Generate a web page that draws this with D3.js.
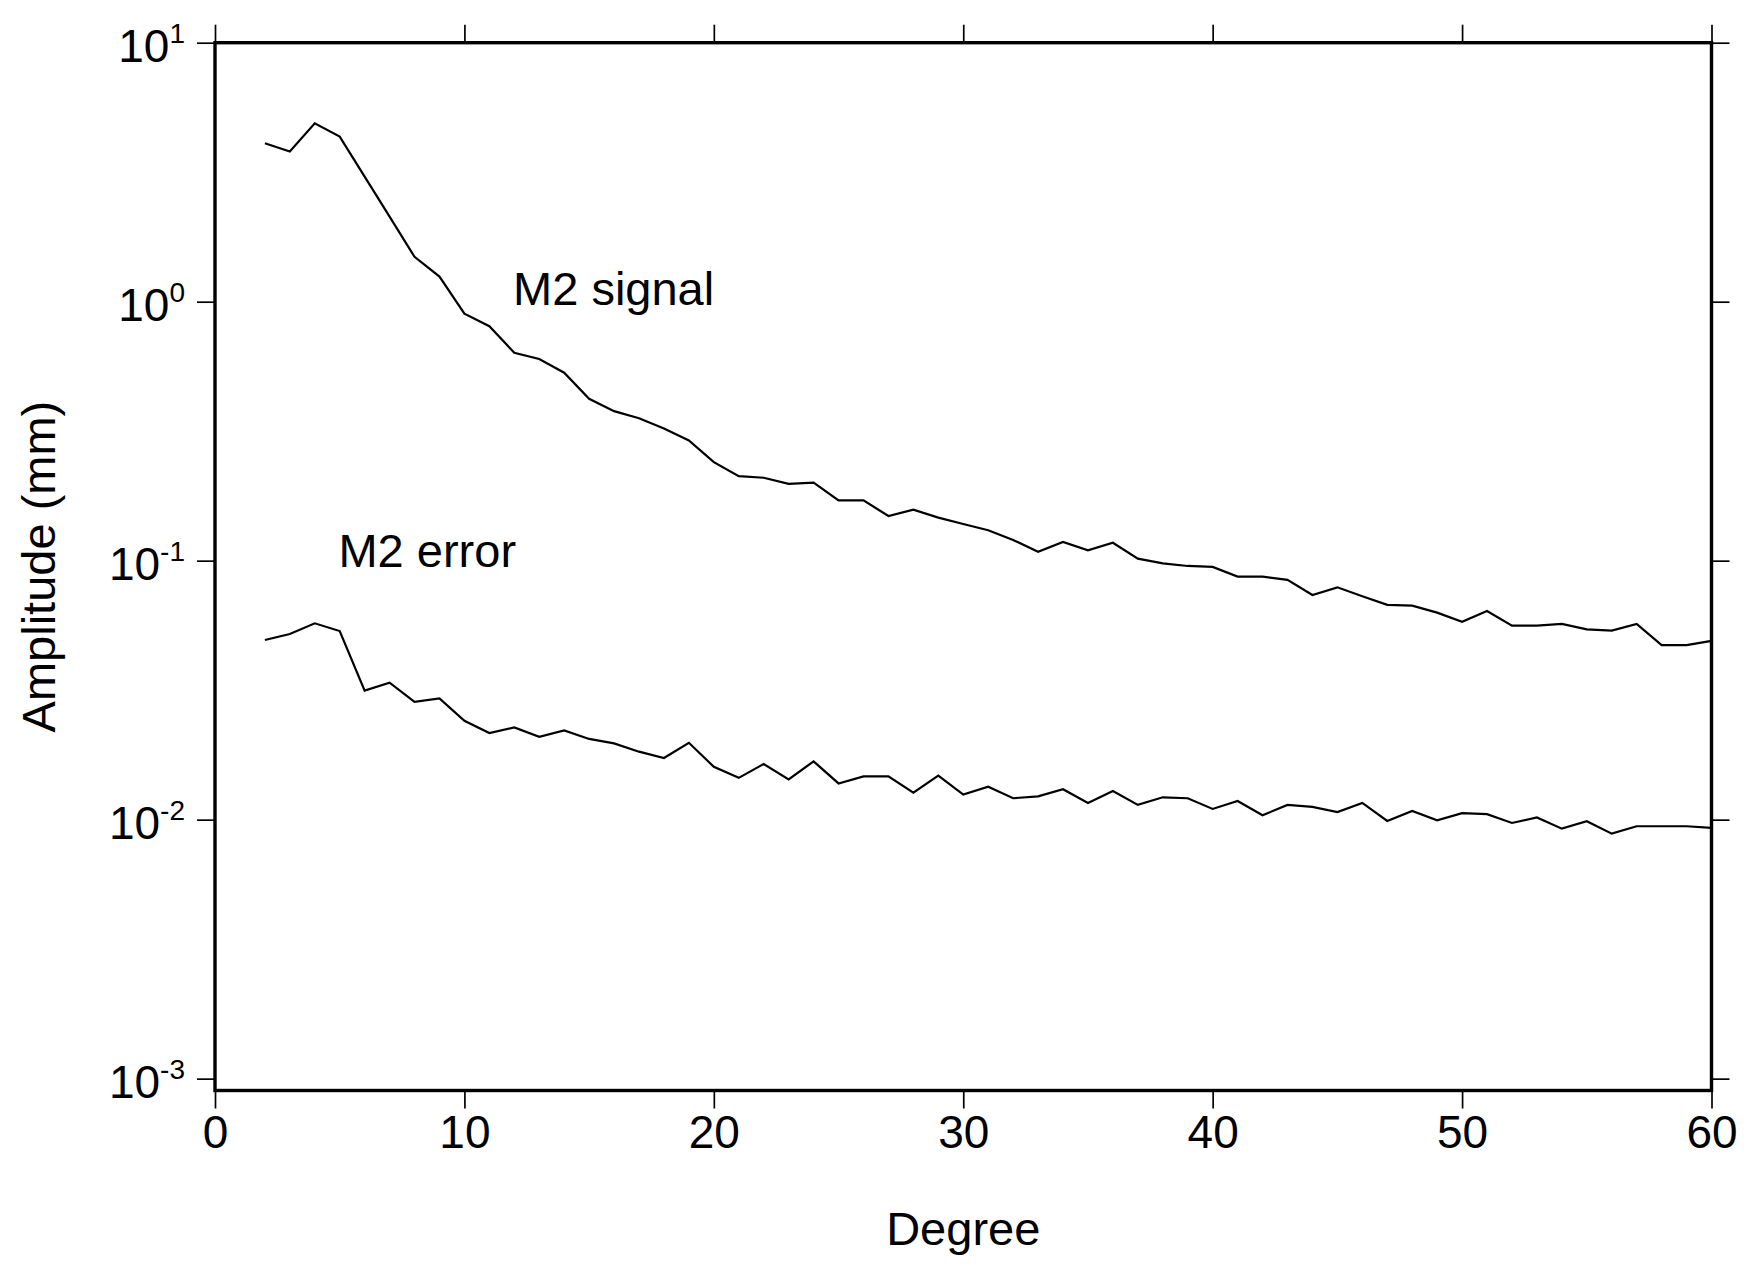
<!DOCTYPE html>
<html>
<head>
<meta charset="utf-8">
<script src="https://cdn.jsdelivr.net/npm/d3@7"></script>
<style>
body { margin: 0; background: #ffffff; }
text { font-family: "Liberation Sans", Arial, Helvetica, sans-serif; fill: #000; }
</style>
</head>
<body>
<div id="graphe"></div>
<script>
var width = 1749,
height = 1271,
gauche = 215,
droite = 1711.5,
haut = 42.7,
bas = 1090.5,
tick = 18;

// degres 2 a 60
var degres = d3.range(2, 61);

var signal = [4.09, 3.80, 4.88, 4.34, 3.04, 2.13, 1.49, 1.25, 0.899, 0.804,
	0.635, 0.601, 0.532, 0.422, 0.378, 0.355, 0.324, 0.291, 0.240, 0.212,
	0.209, 0.198, 0.200, 0.171, 0.171, 0.1488, 0.1573, 0.1466, 0.1386, 0.1311,
	0.1202, 0.1083, 0.1181, 0.1097, 0.1173, 0.1018, 0.0977, 0.0954, 0.0946, 0.0868,
	0.0868, 0.0843, 0.0737, 0.0789, 0.0729, 0.0675, 0.0670, 0.0630, 0.0581, 0.0639,
	0.0561, 0.0561, 0.0570, 0.0543, 0.0537, 0.0570, 0.0472, 0.0472, 0.0490];

var erreur = [0.0494, 0.0521, 0.0573, 0.0535, 0.0315, 0.0338, 0.0285, 0.0294, 0.0241, 0.0216,
	0.0227, 0.0209, 0.0221, 0.0205, 0.0197, 0.0183, 0.0173, 0.0198, 0.0160, 0.0145,
	0.0164, 0.0143, 0.0168, 0.0138, 0.0147, 0.0147, 0.0127, 0.0148, 0.0125, 0.0134,
	0.0121, 0.0123, 0.0131, 0.0116, 0.0129, 0.0114, 0.0122, 0.0121, 0.0110, 0.0118,
	0.0104, 0.0114, 0.0112, 0.0107, 0.0116, 0.00989, 0.0108, 0.00995, 0.0106, 0.0105,
	0.00971, 0.0102, 0.00923, 0.00986, 0.00883, 0.00943, 0.00943, 0.00943, 0.00929];

var xTicks = [0, 10, 20, 30, 40, 50, 60];
var yTicks = [1e-3, 1e-2, 1e-1, 1, 10];
var yExposants = ["-3", "-2", "-1", "0", "1"];

// etiquettes : [texte, degre, amplitude]
var etiquettes = [["M2 signal", 11.95, 0.971], ["M2 error", 4.95, 0.0943]];

var x = d3.scaleLinear().domain([0, 60]).range([gauche, droite]);
var y = d3.scaleLog().domain([0.0009, 10]).range([bas, haut]);

var svg = d3.select("#graphe").append("svg")
	.attr("width", width)
	.attr("height", height)
	.style("background-color", "#ffffff");

// ticks en dehors du cadre, sur les quatre cotes
function ticks(g){
	g.select(".domain").remove();
	g.selectAll(".tick line").attr("stroke", "#000").attr("stroke-width", 1.7);
}

svg.append("g")
	.attr("transform", "translate(0," + bas + ")")
	.call(d3.axisBottom(x).tickValues(xTicks).tickSize(tick).tickPadding(7).tickFormat(d3.format("d")))
	.call(ticks)
	.selectAll("text")
	.attr("font-size", 46)
	.attr("font-family", "Liberation Sans, Arial, sans-serif");

svg.append("g")
	.attr("transform", "translate(0," + haut + ")")
	.call(d3.axisTop(x).tickValues(xTicks).tickSize(tick).tickFormat(""))
	.call(ticks);

var axeG = svg.append("g")
	.attr("transform", "translate(" + gauche + ",0)")
	.call(d3.axisLeft(y).tickValues(yTicks).tickSize(tick).tickFormat(""))
	.call(ticks);

axeG.selectAll(".tick text").remove();
axeG.selectAll(".tick").each(function(d, i){
	var t = d3.select(this).append("text")
		.attr("x", -30)
		.attr("y", 19)
		.attr("text-anchor", "end")
		.attr("font-size", 46);
	t.append("tspan").text("10");
	t.append("tspan")
		.attr("dy", -19)
		.attr("font-size", 28)
		.text(yExposants[i]);
});

svg.append("g")
	.attr("transform", "translate(" + droite + ",0)")
	.call(d3.axisRight(y).tickValues(yTicks).tickSize(tick).tickFormat(""))
	.call(ticks);

// courbes
var ligne = d3.line()
	.x(function(d){ return x(d[0]); })
	.y(function(d){ return y(d[1]); });

[signal, erreur].forEach(function(serie){
	svg.append("path")
		.datum(degres.map(function(d, i){ return [d, serie[i]]; }))
		.attr("fill", "none")
		.attr("stroke", "#000")
		.attr("stroke-width", 2.2)
		.attr("stroke-linejoin", "miter")
		.attr("d", ligne);
});

// cadre
svg.append("rect")
	.attr("x", gauche)
	.attr("y", haut)
	.attr("width", droite - gauche)
	.attr("height", bas - haut)
	.attr("fill", "none")
	.attr("stroke", "#000")
	.attr("stroke-width", 3.4);

svg.selectAll(".etiq")
	.data(etiquettes)
	.enter()
	.append("text")
	.attr("class", "etiq")
	.attr("x", function(d){ return x(d[1]); })
	.attr("y", function(d){ return y(d[2]); })
	.attr("font-size", 47)
	.text(function(d){ return d[0]; });

svg.append("text")
	.attr("x", (gauche + droite) / 2)
	.attr("y", 1245)
	.attr("text-anchor", "middle")
	.attr("font-size", 47)
	.text("Degree");

svg.append("text")
	.attr("transform", "translate(54.5," + (haut + bas) / 2 + ") rotate(-90)")
	.attr("text-anchor", "middle")
	.attr("font-size", 47)
	.text("Amplitude (mm)");
</script>
</body>
</html>
